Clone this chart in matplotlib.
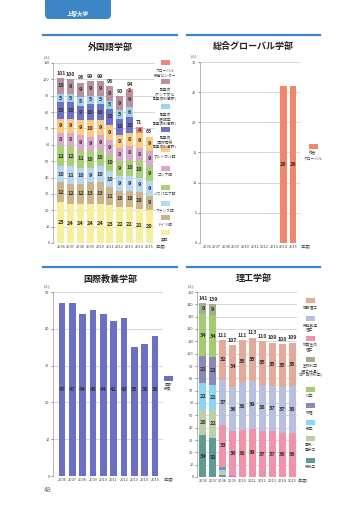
import matplotlib
matplotlib.use('Agg')
import numpy as np
import matplotlib.pyplot as plt
from matplotlib.patches import FancyBboxPatch, Rectangle

plt.rcParams['font.family'] = ['Noto Sans CJK JP', 'DejaVu Sans']

W, H = 360, 509
years = ['2006', '2007', '2008', '2009', '2010', '2011', '2012', '2013', '2014', '2015']

# 外国語学部
eigo = [25, 24, 24, 24, 24, 23, 22, 22, 21, 20]
doitsu = [12, 12, 12, 13, 13, 11, 10, 10, 10, 9]
furansu = [10, 11, 10, 9, 10, 10, 9, 9, 9, 9]
isupania = [12, 12, 11, 10, 10, 10, 9, 10, 10, 9]
roshia = [8, 8, 9, 9, 9, 9, 8, 8, 8, 9]
porutogaru = [9, 9, 9, 10, 9, 9, 8, 8, 9, 9]
kokusai_kankei = [10, 10, 9, 10, 10, 10, 10, 10, 0, 0]
gengogaku = [5, 5, 5, 5, 5, 5, 5, 6, 0, 0]
ajia = [10, 9, 9, 9, 9, 9, 9, 9, 0, 0]
global_center = [0, 0, 0, 0, 0, 0, 0, 2, 4, 0]
totals_gaikokugo = [101, 100, 96, 99, 99, 96, 90, 94, 71, 65]

# 総合グローバル学部
sogo_global = [0, 0, 0, 0, 0, 0, 0, 0, 26, 26]

# 国際教養学部
kokusai_kyoyo = [47, 47, 44, 45, 44, 42, 43, 35, 36, 38]

# 理工学部
kikai = [34, 32, 2, 0, 0, 0, 0, 0, 0, 0]
denki = [20, 22, 2, 0, 0, 0, 0, 0, 0, 0]
sugaku = [22, 21, 2, 0, 0, 0, 0, 0, 0, 0]
butsuri = [22, 22, 2, 1, 0, 0, 0, 0, 0, 0]
kagaku = [34, 34, 1, 0, 0, 0, 0, 0, 0, 0]
seibutsu = [9, 9, 0, 0, 0, 0, 0, 0, 0, 0]
busshitsu = [0, 0, 33, 36, 38, 39, 37, 37, 36, 36]
kino = [0, 0, 37, 36, 38, 39, 38, 37, 37, 38]
joho = [0, 0, 32, 34, 35, 35, 35, 35, 35, 35]
totals_riko = [141, 139, 111, 107, 111, 113, 110, 109, 108, 109]

BLUE = '#3c86c8'
GRID = '#c8c8c8'


def fx(px):
    return px / W


def fy(py):
    return 1 - py / H


fig = plt.figure(figsize=(W / 100, H / 100), dpi=100)
fig.patch.set_facecolor('white')

# header tab
tab = FancyBboxPatch((fx(45), fy(19)), fx(66), 17 / H, boxstyle='round,pad=0,rounding_size=0.01',
                     transform=fig.transFigure, facecolor=BLUE, edgecolor='none')
fig.patches.append(tab)
fig.patches.append(Rectangle((fx(45), fy(8)), fx(66), 9 / H, transform=fig.transFigure,
                             facecolor=BLUE, edgecolor='none'))
fig.text(fx(78), fy(13), '上智大学', color='white', fontsize=4, fontweight='bold',
         ha='center', va='center')
fig.text(fx(44), fy(490), '48', color='#666666', fontsize=5, ha='left', va='center')


def panel_header(x0, x1, yline, title):
    fig.lines.append(plt.Line2D([fx(x0), fx(x1)], [fy(yline), fy(yline)], transform=fig.transFigure,
                                color=BLUE, lw=1.6))
    fig.text(fx((x0 + x1) / 2), fy(yline + 12), title, fontsize=6.5, fontweight='bold',
             ha='center', va='center', color='#222222')


def make_axes(left, right, top, bottom, ymax, ystep, xl, xr):
    ax = fig.add_axes([fx(left), fy(bottom), fx(right - left), (bottom - top) / H])
    ax.set_ylim(0, ymax)
    ax.set_xlim(xl, xr)
    ax.set_yticks(np.arange(0, ymax + 1, ystep))
    ax.set_xticks(range(len(years)))
    ax.set_xticklabels(years)
    ax.tick_params(axis='both', labelsize=2.8, length=1.2, width=0.4, pad=1.2, colors='#444444')
    ax.tick_params(axis='x', length=0)
    for s in ['top', 'right', 'bottom']:
        ax.spines[s].set_visible(False)
    ax.spines['left'].set_color('#999999')
    ax.spines['left'].set_linewidth(0.5)
    ax.yaxis.grid(True, color=GRID, lw=0.5)
    ax.set_axisbelow(True)
    ax.set_facecolor('none')
    fig.text(fx(left - 6), fy(top - 6), '(人)', fontsize=2.8, ha='center', va='center', color='#444444')
    fig.text(fx(right + 6), fy(bottom + 4), '(年度)', fontsize=2.8, ha='center', va='center', color='#444444')
    return ax


def stacked(ax, layers, colors, totals, width, min_label=2, label_size=4):
    x = np.arange(len(years))
    bottom = np.zeros(len(years))
    for vals, col in zip(layers, colors):
        vals = np.array(vals, dtype=float)
        ax.bar(x, vals, width, bottom=bottom, color=col, edgecolor='none')
        for i, v in enumerate(vals):
            if v >= min_label:
                ax.text(x[i], bottom[i] + v / 2, str(int(v)), ha='center', va='center',
                        fontsize=label_size, fontweight='bold', color='#333333')
        bottom += vals
    if totals is not None:
        for i, t in enumerate(totals):
            ax.text(x[i], bottom[i] + ax.get_ylim()[1] * 0.012, str(t), ha='center', va='bottom',
                    fontsize=3.8, fontweight='bold', color='#333333')


def legend(items, xc, ys, text_offsets):
    for (label, col), y, off in zip(items, ys, text_offsets):
        fig.patches.append(Rectangle((fx(xc - 4.5), fy(y + 2.5)), fx(9), 5 / H, transform=fig.transFigure,
                                     facecolor=col, edgecolor='none'))
        fig.text(fx(xc), fy(y + off), label, fontsize=2.7, ha='center', va='top', color='#444444',
                 linespacing=1.2)


# ---------------- 外国語学部 ----------------
panel_header(43, 177, 35, '外国語学部')
ax1 = make_axes(53, 155, 63, 243, 110, 10, -0.8, 9.6)
cols1 = ['#f6ef9c', '#cdb488', '#b7d8f3', '#a8cf76', '#d9a9cc', '#fcca7e',
         '#6d72c5', '#9ed3e9', '#b8919f', '#ee8778']
stacked(ax1, [eigo, doitsu, furansu, isupania, roshia, porutogaru, kokusai_kankei,
              gengogaku, ajia, global_center], cols1, totals_gaikokugo, 0.7)
leg1 = [('グローバル\n教育センター', cols1[9]), ('副専攻\n(アジア文化\n副専攻科目群)', cols1[8]),
        ('副専攻\n(言語学\n副専攻科目群)', cols1[7]), ('副専攻\n(国際関係\n副専攻科目群)', cols1[6]),
        ('ポルトガル語', cols1[5]), ('ロシア語', cols1[4]), ('イスパニア語', cols1[3]),
        ('フランス語', cols1[2]), ('ドイツ語', cols1[1]), ('英語', cols1[0])]
legend(leg1, 165, [62, 81, 106, 129, 149, 168, 187, 203, 218, 232], [7] * 4 + [5] * 6)

# ---------------- 総合グローバル学部 ----------------
panel_header(187, 320, 35, '総合グローバル学部')
ax2 = make_axes(200, 300, 62, 243, 30, 5, -0.73, 9.73)
stacked(ax2, [sogo_global], ['#f0876a'], None, 0.7, min_label=1, label_size=4)
legend([('総合\nグローバル', '#f0876a')], 313, [146], [5])

# ---------------- 国際教養学部 ----------------
panel_header(43, 177, 267, '国際教養学部')
ax3 = make_axes(53, 163, 292, 476, 50, 10, -0.87, 9.78)
x = np.arange(len(years))
ax3.bar(x, kokusai_kyoyo, 0.65, color='#6b70c2', edgecolor='none')
for i, v in enumerate(kokusai_kyoyo):
    ax3.text(x[i], 23.5, str(v), ha='center', va='center', fontsize=4, fontweight='bold', color='#333333')
legend([('国際\n教養', '#6b70c2')], 168, [378], [5])

# ---------------- 理工学部 ----------------
panel_header(187, 320, 267, '理工学部')
ax4 = make_axes(197, 297, 292, 477, 150, 10, -0.6, 9.5)
cols4 = ['#5f9b92', '#bccfa8', '#8ad5f3', '#8a87ba', '#a2cc70', '#9fae8e',
         '#f192aa', '#b8c0e2', '#e2ab99']
stacked(ax4, [kikai, denki, sugaku, butsuri, kagaku, seibutsu, busshitsu, kino, joho],
        cols4, totals_riko, 0.7, min_label=5)
leg4 = [('情報理工', cols4[8]), ('機能創造\n理工', cols4[7]), ('物質生命\n理工', cols4[6]),
        ('生物科学\n(理工共通/\n旧・自然科学)', cols4[5]), ('化学', cols4[4]), ('物理', cols4[3]),
        ('数学', cols4[2]), ('電気・\n電子工', cols4[1]), ('機械工', cols4[0])]
legend(leg4, 310, [300, 318, 338, 359, 389, 405, 422, 438, 460], [5] * 9)

fig.savefig('out.png', dpi=100)
